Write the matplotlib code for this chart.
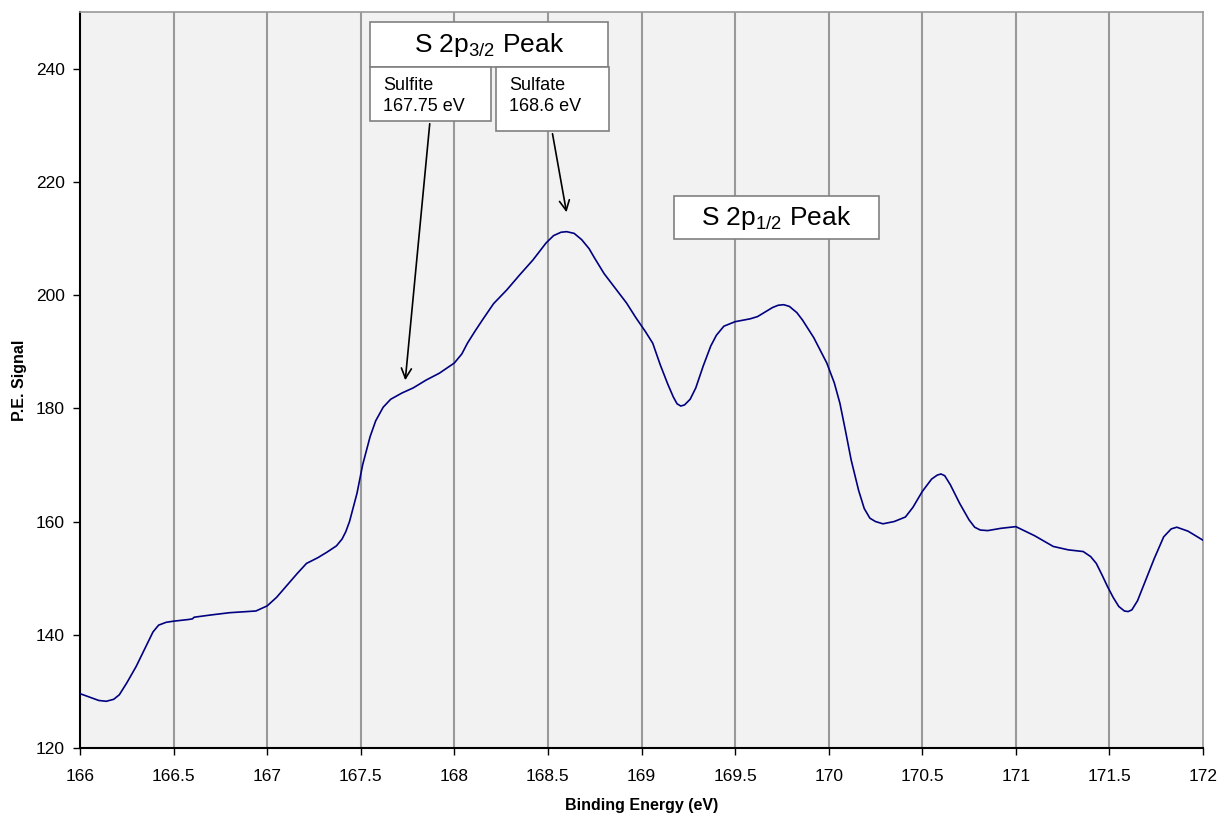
import matplotlib
matplotlib.use("Agg")
import matplotlib.pyplot as plt
from matplotlib.patches import Rectangle

plt.rcParams['font.family'] = ['Liberation Sans', 'DejaVu Sans']
plt.rcParams['mathtext.fontset'] = 'custom'
plt.rcParams['mathtext.rm'] = 'Liberation Sans'
plt.rcParams['mathtext.it'] = 'Liberation Sans:italic'

energy = [166.00, 166.05, 166.10, 166.14, 166.18, 166.21, 166.25, 166.30, 166.35, 166.39,
          166.42, 166.46, 166.50, 166.58, 166.60, 166.61, 166.70, 166.80, 166.94, 167.00,
          167.05, 167.10, 167.16, 167.21, 167.27, 167.32, 167.37, 167.40, 167.42, 167.44,
          167.48, 167.51, 167.55, 167.58, 167.62, 167.66, 167.72, 167.78, 167.85, 167.92,
          168.00, 168.04, 168.07, 168.11, 168.15, 168.21, 168.28, 168.35, 168.42, 168.49,
          168.53, 168.57, 168.60, 168.64, 168.68, 168.72, 168.75, 168.80, 168.86, 168.92,
          168.97, 169.02, 169.06, 169.10, 169.14, 169.17, 169.19, 169.21, 169.23, 169.26,
          169.29, 169.33, 169.37, 169.40, 169.44, 169.50, 169.58, 169.62, 169.66, 169.70,
          169.73, 169.76, 169.79, 169.83, 169.86, 169.92, 169.99, 170.03, 170.06, 170.09,
          170.12, 170.16, 170.19, 170.22, 170.25, 170.29, 170.35, 170.41, 170.45, 170.50,
          170.55, 170.58, 170.60, 170.62, 170.65, 170.70, 170.75, 170.78, 170.81, 170.85,
          170.92, 171.00, 171.10, 171.20, 171.28, 171.36, 171.40, 171.43, 171.46, 171.49,
          171.52, 171.55, 171.58, 171.60, 171.62, 171.65, 171.68, 171.74, 171.79, 171.83,
          171.86, 171.92, 172.00]
signal = [129.6, 129.0, 128.4, 128.25, 128.6, 129.4, 131.5, 134.4, 137.8, 140.5,
          141.7, 142.2, 142.4, 142.7, 142.8, 143.1, 143.5, 143.9, 144.2, 145.1,
          146.6, 148.5, 150.8, 152.6, 153.6, 154.6, 155.7, 156.9, 158.2, 160.0,
          165.0, 170.0, 175.0, 177.8, 180.2, 181.6, 182.7, 183.6, 185.0, 186.2,
          188.0, 189.6, 191.5, 193.6, 195.6, 198.5, 200.9, 203.6, 206.2, 209.2,
          210.5, 211.1, 211.2, 210.9, 209.8, 208.2, 206.5, 203.8, 201.2, 198.6,
          196.0, 193.6, 191.5, 187.7, 184.3, 182.0, 180.8, 180.4, 180.6, 181.6,
          183.6, 187.5, 191.0, 192.9, 194.5, 195.3, 195.8, 196.2, 197.0, 197.8,
          198.2, 198.3, 198.0, 196.9, 195.6, 192.5, 188.0, 184.5, 180.9, 176.0,
          170.9, 165.5, 162.3, 160.6, 160.0, 159.6, 160.0, 160.8, 162.5, 165.3,
          167.5, 168.2, 168.4, 168.1, 166.5, 163.2, 160.3, 159.0, 158.5, 158.4,
          158.8, 159.1, 157.5, 155.6, 155.0, 154.7, 153.8, 152.6, 150.6, 148.5,
          146.6, 145.0, 144.2, 144.1, 144.4, 146.0, 148.5, 153.5, 157.3, 158.7,
          159.0, 158.3, 156.7]

x_ticks = [166, 166.5, 167, 167.5, 168, 168.5, 169, 169.5, 170, 170.5, 171, 171.5, 172]
x_tick_labels = ['166', '166.5', '167', '167.5', '168', '168.5', '169', '169.5',
                 '170', '170.5', '171', '171.5', '172']
y_ticks = [120, 140, 160, 180, 200, 220, 240]

fig = plt.figure(figsize=(12.24, 8.16), dpi=100)
ax = fig.add_axes([80/1224, 1-748/816, 1123/1224, 736/816])
ax.set_facecolor('#f2f2f2')
ax.set_xlim(166, 172)
ax.set_ylim(120, 250)

for xv in x_ticks[1:-1]:
    ax.axvline(xv, color='#999999', lw=1.5, zorder=1)

ax.plot(energy, signal, color='#000080', lw=1.2, zorder=3, solid_joinstyle='round')

ax.set_xticks(x_ticks)
ax.set_xticklabels(x_tick_labels)
ax.set_yticks(y_ticks)
ax.tick_params(axis='both', direction='out', length=5, width=1, labelsize=12.5, color='black')
ax.tick_params(axis='x', pad=10)
ax.tick_params(axis='y', pad=6)

for s in ['left', 'bottom']:
    ax.spines[s].set_color('black')
    ax.spines[s].set_linewidth(1.5)
for s in ['top', 'right']:
    ax.spines[s].set_color('#999999')
    ax.spines[s].set_linewidth(1.2)

ax.set_xlabel('Binding Energy (eV)', fontsize=11.5, fontweight='bold', labelpad=10)
ax.set_ylabel('P.E. Signal', fontsize=11.5, fontweight='bold', labelpad=6)

# helper: pixel -> data
def px2d(px, py):
    return 166 + (px - 80) / 1123 * 6, 120 + (748 - py) / 736 * 130

def box(x0, y0, x1, y1):
    a = px2d(x0, y1)
    b = px2d(x1, y0)
    r = Rectangle(a, b[0]-a[0], b[1]-a[1], facecolor='white', edgecolor='#808080',
                  lw=1.2, zorder=5, clip_on=False)
    ax.add_patch(r)

# arrows
ax.annotate('', xy=px2d(405, 383), xytext=px2d(430, 121),
            arrowprops=dict(arrowstyle='->', color='black', lw=1.2, mutation_scale=18), zorder=4)
ax.annotate('', xy=px2d(567, 215), xytext=px2d(552, 131),
            arrowprops=dict(arrowstyle='->', color='black', lw=1.2, mutation_scale=18), zorder=4)

box(370, 22, 608, 67)
box(370, 67, 491, 121)
box(496, 67, 609, 131)
box(674, 196, 879, 239)

ax.text(*px2d(489, 45), 'S 2p$_{\\mathregular{3/2}}$ Peak', fontsize=19, ha='center', va='center', zorder=6)
ax.text(*px2d(776, 218), 'S 2p$_{\\mathregular{1/2}}$ Peak', fontsize=19, ha='center', va='center', zorder=6)
ax.text(*px2d(383, 96), 'Sulfite\n167.75 eV', fontsize=13, ha='left', va='center',
        linespacing=1.25, zorder=6)
ax.text(*px2d(509, 96), 'Sulfate\n168.6 eV', fontsize=13, ha='left', va='center',
        linespacing=1.25, zorder=6)

fig.savefig('out.png', dpi=100)
